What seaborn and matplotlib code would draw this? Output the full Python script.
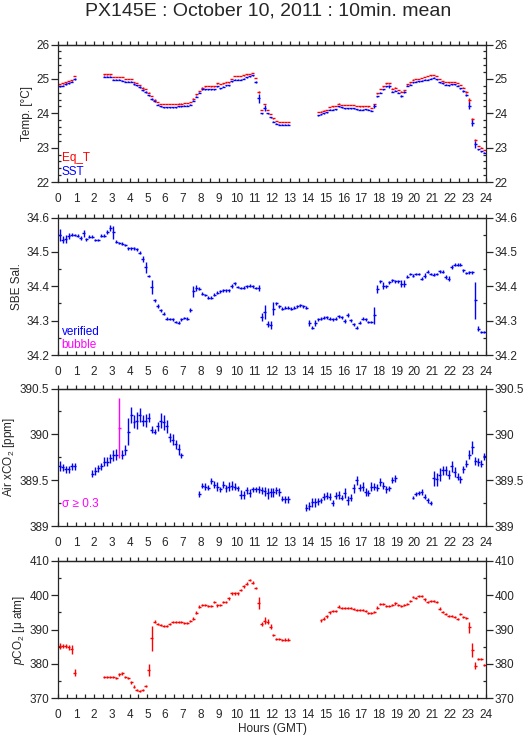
import numpy as np
import matplotlib
matplotlib.use("Agg")
import matplotlib.pyplot as plt
from matplotlib.ticker import MultipleLocator, FormatStrFormatter, NullFormatter
import seaborn as sns

nan = np.nan

# 10-minute slots, 0..143 (12 values per row = 2 hours)
eq_t = [
    24.86, 24.87, 24.90, 24.93, 24.97, 25.08, nan, nan, nan, nan, nan, nan,
    nan, nan, nan, 25.13, 25.13, 25.13, 25.06, 25.05, 25.05, 25.05, 25.00, 25.00,
    24.99, 24.92, 24.88, 24.83, 24.75, 24.70, 24.60, 24.50, 24.40, 24.32, 24.27, 24.27,
    24.27, 24.27, 24.27, 24.27, 24.28, 24.28, 24.30, 24.30, 24.33, 24.43, 24.55, 24.65,
    24.75, 24.78, 24.80, 24.78, 24.78, 24.87, 24.85, 24.87, 24.90, 24.90, 25.00, 25.08,
    25.08, 25.08, 25.10, 25.13, 25.15, 25.18, 25.03, 24.62, 24.10, 24.27, 24.10, 23.98,
    23.85, 23.78, 23.75, 23.75, 23.75, 23.75, nan, nan, nan, nan, nan, nan,
    nan, nan, nan, 24.03, 24.05, 24.08, 24.10, 24.18, 24.20, 24.22, 24.28, 24.25,
    24.25, 24.25, 24.25, 24.25, 24.22, 24.20, 24.20, 24.22, 24.20, 24.15, 24.27, 24.58,
    24.70, 24.78, 24.87, 24.87, 24.72, 24.75, 24.68, 24.63, 24.68, 24.85, 24.90, 24.98,
    25.00, 25.00, 25.02, 25.05, 25.08, 25.10, 25.12, 25.08, 25.00, 24.93, 24.92, 24.90,
    24.92, 24.92, 24.88, 24.82, 24.75, 24.62, 24.38, 23.82, 23.22, 23.05, 23.00, 22.93,
]
eq_t_sd = [
    .005, .005, .005, .005, .005, .005, 0, 0, 0, 0, 0, 0,
    0, 0, 0, .005, .005, .005, .005, .005, .005, .005, .005, .005,
    .005, .005, .005, .005, .005, .005, .005, .005, .005, .005, .005, .005,
    .005, .005, .005, .005, .005, .005, .005, .005, .005, .005, .005, .005,
    .005, .005, .005, .005, .005, .005, .005, .005, .005, .005, .005, .005,
    .005, .005, .005, .005, .005, .005, .005, .04, .005, .01, .005, .005,
    .005, .005, .005, .005, .005, .005, 0, 0, 0, 0, 0, 0,
    0, 0, 0, .005, .005, .005, .005, .005, .005, .005, .005, .005,
    .005, .005, .005, .005, .005, .005, .005, .005, .005, .005, .01, .005,
    .005, .005, .005, .005, .005, .005, .005, .005, .005, .005, .005, .005,
    .005, .005, .005, .005, .005, .005, .005, .005, .005, .005, .005, .005,
    .005, .005, .005, .005, .005, .03, .07, .05, .03, .005, .005, .005,
]
sst = [
    24.78, 24.80, 24.85, 24.87, 24.92, 25.00, nan, nan, nan, nan, nan, nan,
    nan, nan, nan, 25.07, 25.07, 25.07, 24.98, 24.97, 24.97, 24.95, 24.92, 24.92,
    24.92, 24.85, 24.82, 24.77, 24.68, 24.62, 24.52, 24.42, 24.35, 24.25, 24.20, 24.18,
    24.17, 24.17, 24.17, 24.17, 24.20, 24.20, 24.22, 24.22, 24.25, 24.37, 24.48, 24.60,
    24.70, 24.70, 24.70, 24.70, 24.70, 24.78, 24.73, 24.77, 24.82, 24.82, 24.93, 24.97,
    24.97, 24.97, 25.00, 25.05, 25.08, 25.10, 24.90, 24.44, 24.00, 24.15, 24.00, 23.88,
    23.76, 23.70, 23.66, 23.66, 23.66, 23.66, nan, nan, nan, nan, nan, nan,
    nan, nan, nan, 23.94, 23.97, 24.00, 24.03, 24.10, 24.10, 24.12, 24.20, 24.18,
    24.15, 24.15, 24.15, 24.15, 24.12, 24.10, 24.10, 24.12, 24.10, 24.07, 24.20, 24.49,
    24.60, 24.70, 24.78, 24.78, 24.62, 24.65, 24.60, 24.50, 24.62, 24.80, 24.83, 24.90,
    24.92, 24.93, 24.95, 24.97, 24.98, 25.00, 25.03, 24.99, 24.90, 24.87, 24.83, 24.82,
    24.85, 24.85, 24.80, 24.73, 24.65, 24.52, 24.22, 23.72, 23.10, 22.95, 22.90, 22.85,
]
sst_sd = [
    .02, .02, .02, .02, .02, .02, 0, 0, 0, 0, 0, 0,
    0, 0, 0, .015, .015, .015, .015, .015, .015, .015, .015, .015,
    .015, .02, .015, .02, .02, .02, .02, .02, .02, .015, .015, .015,
    .015, .015, .015, .015, .015, .015, .015, .015, .015, .02, .02, .02,
    .015, .015, .015, .015, .015, .015, .015, .015, .015, .015, .015, .015,
    .015, .015, .015, .015, .015, .015, .03, .13, .02, .08, .02, .015,
    .015, .015, .015, .015, .015, .015, 0, 0, 0, 0, 0, 0,
    0, 0, 0, .015, .015, .015, .015, .015, .015, .015, .015, .015,
    .015, .015, .015, .015, .015, .015, .015, .015, .015, .015, .06, .02,
    .02, .015, .015, .04, .015, .015, .015, .03, .04, .015, .015, .015,
    .015, .015, .015, .015, .015, .015, .015, .015, .015, .015, .015, .015,
    .015, .015, .015, .015, .02, .03, .10, .08, .10, .02, .015, .015,
]
sal = [
    34.550, 34.535, 34.537, 34.547, 34.550, 34.549, 34.547, 34.540, 34.554, 34.537, 34.544, 34.544,
    34.535, 34.535, 34.547, 34.547, 34.557, 34.569, 34.557, 34.530, 34.526, 34.524, 34.520, 34.510,
    34.510, 34.510, 34.508, 34.498, 34.480, 34.455, 34.430, 34.398, 34.359, 34.343, 34.330, 34.320,
    34.306, 34.305, 34.304, 34.296, 34.294, 34.304, 34.308, 34.306, 34.330, 34.385, 34.395, 34.393,
    34.378, 34.375, 34.367, 34.367, 34.376, 34.381, 34.385, 34.388, 34.388, 34.388, 34.402, 34.409,
    34.398, 34.395, 34.396, 34.400, 34.402, 34.400, 34.395, 34.395, 34.310, 34.325, 34.290, 34.287,
    34.335, 34.350, 34.342, 34.335, 34.338, 34.338, 34.335, 34.338, 34.342, 34.345, 34.342, 34.338,
    34.293, 34.280, 34.293, 34.304, 34.306, 34.309, 34.310, 34.306, 34.304, 34.306, 34.313, 34.310,
    34.300, 34.316, 34.301, 34.289, 34.280, 34.294, 34.306, 34.304, 34.296, 34.296, 34.315, 34.393,
    34.415, 34.402, 34.400, 34.412, 34.417, 34.414, 34.415, 34.407, 34.407, 34.428, 34.436, 34.431,
    34.436, 34.436, 34.422, 34.431, 34.443, 34.436, 34.434, 34.436, 34.444, 34.443, 34.427, 34.422,
    34.455, 34.463, 34.463, 34.463, 34.446, 34.439, 34.441, 34.441, 34.359, 34.277, 34.267, 34.267,
]
sal_sd = [
    .018, .010, .012, .008, .004, .004, .004, .006, .010, .004, .004, .004,
    .004, .004, .004, .004, .006, .008, .018, .004, .004, .004, .004, .004,
    .004, .004, .004, .004, .008, .016, .004, .020, .004, .006, .004, .004,
    .004, .004, .004, .004, .004, .004, .004, .004, .006, .016, .008, .004,
    .004, .004, .004, .004, .004, .004, .004, .004, .004, .004, .006, .004,
    .004, .004, .004, .004, .004, .004, .004, .008, .012, .020, .008, .012,
    .018, .004, .004, .004, .004, .004, .004, .004, .004, .004, .004, .004,
    .010, .004, .008, .004, .004, .004, .004, .004, .004, .004, .004, .004,
    .006, .006, .004, .004, .004, .004, .004, .004, .004, .004, .024, .012,
    .004, .010, .004, .004, .004, .004, .004, .010, .010, .004, .004, .004,
    .004, .004, .004, .008, .004, .004, .004, .004, .004, .004, .006, .008,
    .006, .004, .004, .004, .004, .004, .004, .004, .053, .006, .004, .004,
]
xco2 = [
    389.65, 389.64, 389.62, 389.62, 389.65, 389.65, nan, nan, nan, nan, nan, 389.57,
    389.60, 389.63, 389.65, 389.70, 389.70, 389.74, 389.77, 389.78, 390.07, 389.78, 389.83, 390.03,
    390.21, 390.14, 390.15, 390.21, 390.15, 390.15, 390.18, 390.05, 390.03, 390.09, 390.15, 390.13,
    390.09, 389.97, 389.94, 389.89, 389.84, 389.77, nan, nan, nan, nan, nan, 389.35,
    389.44, 389.43, 389.42, 389.49, 389.45, 389.43, 389.40, 389.45, 389.41, 389.43, 389.44, 389.43,
    389.41, 389.34, 389.34, 389.39, 389.36, 389.40, 389.40, 389.40, 389.39, 389.38, 389.36, 389.37,
    389.37, 389.39, 389.37, 389.30, 389.29, 389.29, nan, nan, nan, nan, nan, 389.20,
    389.22, 389.26, 389.26, 389.27, 389.28, 389.32, 389.33, 389.32, 389.25, 389.33, 389.34, 389.31,
    389.36, 389.28, 389.31, 389.41, 389.50, 389.42, 389.43, 389.37, 389.36, 389.43, 389.43, 389.42,
    389.48, 389.44, 389.40, 389.41, 389.50, 389.52, nan, nan, nan, nan, nan, 389.31,
    389.35, 389.36, 389.37, 389.32, 389.28, 389.25, 389.52, 389.51, 389.56, 389.61, 389.61, 389.56,
    389.65, 389.59, 389.54, 389.51, 389.62, 389.68, 389.78, 389.86, 389.71, 389.70, 389.68, 389.76,
]
xco2_sd = [
    .055, .04, .04, .04, .04, .04, 0, 0, 0, 0, 0, .04,
    .04, .04, .04, .05, .05, .05, .06, .06, .33, .05, .05, .15,
    .09, .07, .09, .08, .06, .07, .05, .04, .03, .05, .08, .08,
    .07, .05, .06, .05, .06, .03, 0, 0, 0, 0, 0, .03,
    .03, .04, .03, .03, .04, .05, .03, .04, .04, .05, .05, .04,
    .03, .05, .04, .04, .04, .03, .03, .04, .04, .05, .06, .05,
    .05, .04, .04, .03, .04, .04, 0, 0, 0, 0, 0, .04,
    .04, .05, .05, .04, .03, .04, .04, .04, .03, .04, .04, .03,
    .05, .05, .04, .05, .05, .04, .05, .04, .03, .05, .04, .04,
    .04, .04, .04, .03, .03, .04, 0, 0, 0, 0, 0, .02,
    .02, .02, .03, .03, .03, .02, .08, .07, .07, .05, .05, .05,
    .06, .05, .04, .04, .04, .04, .05, .07, .04, .04, .04, .04,
]
pco2 = [
    385.2, 385.2, 385.2, 384.8, 384.2, 377.5, nan, nan, nan, nan, nan, nan,
    nan, nan, nan, 376.3, 376.3, 376.3, 376.3, 376.0, 377.0, 377.3, 376.3, 375.8,
    374.7, 373.4, 372.4, 372.1, 372.4, 373.6, 378.2, 387.4, 392.3, 391.6, 391.3, 391.1,
    391.1, 391.6, 392.3, 392.3, 392.3, 392.3, 391.8, 391.8, 392.5, 393.2, 394.9, 396.6,
    397.1, 397.1, 396.8, 396.8, 397.9, 397.1, 397.1, 397.9, 398.1, 399.1, 400.5, 400.5,
    400.5, 401.5, 402.6, 403.4, 404.4, 403.6, 402.0, 397.8, 391.6, 392.6, 392.3, 390.8,
    388.4, 387.2, 387.2, 386.9, 387.1, 387.1, nan, nan, nan, nan, nan, nan,
    nan, nan, nan, nan, 392.7, 393.2, 393.9, 395.0, 395.5, 395.5, 396.6, 396.4,
    396.4, 396.4, 396.4, 396.1, 395.7, 395.7, 395.7, 395.4, 394.7, 394.7, 395.2, 396.4,
    397.4, 397.3, 396.8, 396.8, 397.1, 397.6, 397.1, 396.8, 397.1, 397.3, 398.3, 399.5,
    399.1, 399.8, 399.7, 398.8, 397.9, 398.3, 398.3, 397.9, 396.1, 395.2, 394.4, 394.0,
    393.9, 393.7, 393.2, 394.4, 393.7, 393.4, 390.6, 384.0, 379.5, 381.4, 381.4, 379.7,
]
pco2_sd = [
    .9, .5, .5, .8, 1.3, 1.0, 0, 0, 0, 0, 0, 0,
    0, 0, 0, .3, .3, .3, .3, .3, .4, .4, .3, .3,
    .4, .4, .3, .3, .3, .4, 1.8, 3.5, .4, .3, .3, .3,
    .3, .3, .3, .3, .3, .3, .3, .3, .3, .5, .5, .4,
    .3, .3, .3, .3, .3, .4, .3, .3, .3, .4, .3, .3,
    .3, .3, .4, .4, .4, .4, .3, 1.7, .5, 1.0, .8, .7,
    .4, .3, .3, .3, .3, .3, 0, 0, 0, 0, 0, 0,
    0, 0, 0, 0, .5, .4, .4, .4, .3, .3, .4, .3,
    .3, .3, .3, .3, .3, .3, .3, .3, .3, .3, .3, .5,
    .4, .3, .3, .3, .3, .4, .3, .3, .3, .3, .4, .4,
    .3, .3, .3, .4, .3, .3, .3, .3, .4, .3, .3, .3,
    .3, .3, .3, .3, .3, .3, 1.5, 2.0, 1.0, .4, .3, .3,
]

hours = (np.arange(144) + 0.5) / 6.0
half_slot = 1.0 / 12.0

sns.set_style("ticks")
plt.rcParams["font.family"] = ["Liberation Sans", "DejaVu Sans"]
plt.rcParams["mathtext.fontset"] = "custom"
plt.rcParams["mathtext.rm"] = "Liberation Sans"
plt.rcParams["mathtext.it"] = "Liberation Sans:italic"
plt.rcParams["axes.linewidth"] = 0.9

FS = 8.5
BLUE, RED, MAGENTA = "#0000ff", "#ff0000", "#ff00ff"

fig = plt.figure(figsize=(5.29, 7.39), dpi=100)
bottoms = [0.7537, 0.5196, 0.2882, 0.0551]
axes = [fig.add_axes([0.1102, b, 0.808, 0.186]) for b in bottoms]


def draw(ax, y, sd, color):
    y = np.array(y, dtype=float)
    sd = np.array(sd, dtype=float)
    ok = ~np.isnan(y)
    ax.errorbar(hours[ok], y[ok], xerr=half_slot, yerr=sd[ok], fmt="none",
                ecolor=color, elinewidth=1.0, capsize=0)


def style(ax, ylim, major, minor, ylabel):
    ax.set_xlim(0, 24)
    ax.set_ylim(*ylim)
    ax.xaxis.set_major_locator(MultipleLocator(1))
    ax.xaxis.set_minor_locator(MultipleLocator(0.5))
    ax.xaxis.set_major_formatter(FormatStrFormatter("%d"))
    ax.yaxis.set_major_locator(MultipleLocator(major))
    ax.yaxis.set_minor_locator(MultipleLocator(minor))
    ax.yaxis.set_major_formatter(FormatStrFormatter("%g"))
    ax.tick_params(axis="x", which="both", direction="in", length=3, width=0.9,
                   top=False, labelsize=FS, pad=8)
    # left and right both labelled, same ticks
    ax.tick_params(axis="y", which="major", direction="out", length=5, width=0.9,
                   left=True, right=True, labelleft=True, labelright=True,
                   labelsize=FS, pad=1.5)
    ax.tick_params(axis="y", which="minor", direction="in", length=2.4, width=0.9,
                   left=True, right=True)
    ax.set_ylabel(ylabel, fontsize=FS, labelpad=2)

    sx = ax.secondary_xaxis("top")
    sx.xaxis.set_major_locator(MultipleLocator(0.5))
    sx.xaxis.set_major_formatter(NullFormatter())
    sx.tick_params(direction="out", length=3, width=0.9, labeltop=False)


ax1, ax2, ax3, ax4 = axes

draw(ax1, eq_t, eq_t_sd, RED)
draw(ax1, sst, sst_sd, BLUE)
style(ax1, (22, 26), 1, 0.2, "Temp. [°C]")
ax1.text(0.008, 0.175, "Eq_T", color=RED, fontsize=FS, va="center",
         transform=ax1.transAxes)
ax1.text(0.008, 0.07, "SST", color=BLUE, fontsize=FS, va="center",
         transform=ax1.transAxes)

draw(ax2, sal, sal_sd, BLUE)
style(ax2, (34.2, 34.6), 0.1, 0.05, "SBE Sal.")
ax2.text(0.008, 0.17, "verified", color=BLUE, fontsize=FS, va="center",
         transform=ax2.transAxes)
ax2.text(0.008, 0.072, "bubble", color=MAGENTA, fontsize=FS, va="center",
         transform=ax2.transAxes)

# flag sigma >= 0.3 in magenta
x_arr = np.array(xco2, dtype=float)
x_sd = np.array(xco2_sd, dtype=float)
big = x_sd >= 0.3
draw(ax3, np.where(big, nan, x_arr), x_sd, BLUE)
draw(ax3, np.where(big, x_arr, nan), x_sd, MAGENTA)
style(ax3, (389, 390.5), 0.5, 0.25, "Air xCO$_2$ [ppm]")
ax3.text(0.008, 0.16, "σ ≥ 0.3", color=MAGENTA, fontsize=FS, va="center",
         transform=ax3.transAxes)

draw(ax4, pco2, pco2_sd, RED)
style(ax4, (370, 410), 10, 5, "$p$CO$_2$ [μ atm]")
ax4.set_xlabel("Hours (GMT)", fontsize=FS, labelpad=1)

fig.text(0.507, 0.985, "PX145E : October 10, 2011 : 10min. mean",
         ha="center", va="center", fontsize=14)

fig.savefig("out.png", dpi=100)
